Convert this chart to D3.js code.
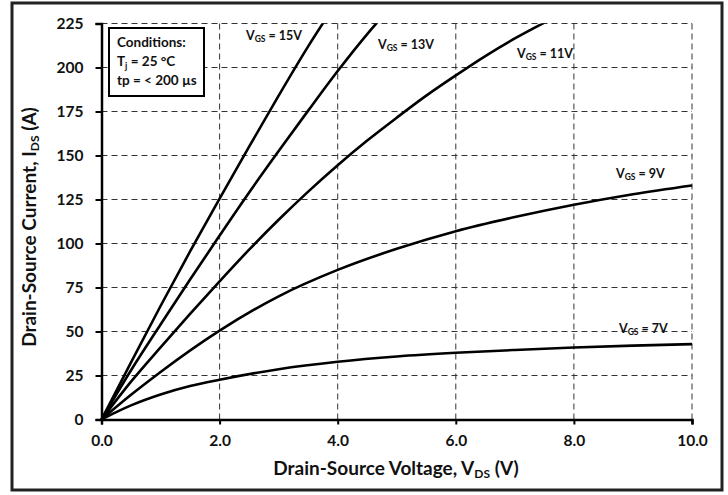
<!DOCTYPE html>
<html>
<head>
<meta charset="utf-8">
<script src="https://cdn.jsdelivr.net/npm/d3@7"></script>
<style>
  html, body { margin: 0; padding: 0; background: #fff; }
  svg { display: block; font-family: Lato, "Open Sans", sans-serif; }
</style>
</head>
<body>
<svg id="chart" width="728" height="495"></svg>
<script>
// Output characteristics, drain current vs drain-source voltage at several gate voltages
const vgsLabels = ["15V", "13V", "11V", "9V", "7V"];
const vds15 = [0, 0.5, 1, 1.5, 2, 2.5, 3, 3.5, 4];
const ids15 = [0, 32.5, 64.5, 95.5, 125.5, 155, 184, 212, 238];
const vds13 = [0, 0.5, 1, 1.5, 2, 2.5, 3, 3.5, 4, 4.5, 5];
const ids13 = [0, 28, 54, 79.5, 104.5, 129, 152.5, 175.5, 198, 219, 238];
const vds11 = [0, 0.5, 1, 1.5, 2, 2.5, 3, 3.5, 4, 4.5, 5, 5.5, 6, 6.5, 7, 7.5, 8];
const ids11 = [0, 21.5, 41, 60, 78.5, 96.5, 113.5, 129.5, 144.5, 158.5, 171.5, 184, 195.5, 206.5, 216.5, 225.5, 234];
const vds9 = [0, 0.5, 1, 2, 3, 4, 5, 6, 7, 8, 9, 10];
const ids9 = [0, 14, 27, 50.5, 70, 85, 97, 107, 115, 122, 128, 133];
const vds7 = [0, 0.25, 0.5, 1, 1.5, 2, 3, 4, 5, 6, 7, 8, 9, 10];
const ids7 = [0, 4.2, 8, 14.2, 19, 22.6, 28.6, 32.8, 35.8, 37.9, 39.5, 40.9, 42, 42.8];
const xTicks = [0, 2, 4, 6, 8, 10];
const yTicks = [0, 25, 50, 75, 100, 125, 150, 175, 200, 225];
const conditions = ["Conditions:", "T|j| = 25 °C", "tp = < 200 µs"];

const series = [
  { label: vgsLabels[0], vds: vds15, ids: ids15, lx: 246, ly: 40 },
  { label: vgsLabels[1], vds: vds13, ids: ids13, lx: 378, ly: 49 },
  { label: vgsLabels[2], vds: vds11, ids: ids11, lx: 517, ly: 58 },
  { label: vgsLabels[3], vds: vds9, ids: ids9, lx: 616, ly: 178 },
  { label: vgsLabels[4], vds: vds7, ids: ids7, lx: 619, ly: 333 }
];

const svg = d3.select("#chart");
const x = d3.scaleLinear().domain([0, 10]).range([101.5, 692]);
const y = d3.scaleLinear().domain([0, 225]).range([419.5, 23.5]);

// clip curves to the plotting area
svg.append("defs").append("clipPath").attr("id", "plot-clip")
  .append("rect")
  .attr("x", x(0) - 2).attr("y", y(225))
  .attr("width", x(10) - x(0) + 4).attr("height", y(0) - y(225) + 2);

// outer frame
svg.append("rect")
  .attr("x", 12).attr("y", 3).attr("width", 710).attr("height", 487)
  .attr("fill", "#fff").attr("stroke", "#222").attr("stroke-width", 3);

// dashed grid
const grid = svg.append("g").attr("stroke", "#333").attr("stroke-width", 1)
  .attr("stroke-dasharray", "6,4").attr("fill", "none");
grid.selectAll("line.h").data(yTicks.filter(d => d > 0)).join("line")
  .attr("x1", x(0)).attr("x2", x(10))
  .attr("y1", d => y(d)).attr("y2", d => y(d));
grid.selectAll("line.v").data(xTicks.filter(d => d > 0)).join("line")
  .attr("x1", d => x(d)).attr("x2", d => x(d))
  .attr("y1", y(0)).attr("y2", y(225));

// axes
const xAxis = svg.append("g").attr("transform", `translate(0,${y(0)})`)
  .call(d3.axisBottom(x).tickValues(xTicks).tickFormat(d3.format(".1f")).tickSize(5).tickPadding(10));
const yAxis = svg.append("g").attr("transform", `translate(${x(0)},0)`)
  .call(d3.axisLeft(y).tickValues(yTicks).tickSize(6).tickPadding(12));
[xAxis, yAxis].forEach(a => {
  a.select(".domain").attr("stroke", "#000").attr("stroke-width", 2.5);
  a.selectAll(".tick line").attr("stroke", "#000").attr("stroke-width", 2);
  a.selectAll(".tick text").attr("fill", "#111")
    .attr("font-family", "Lato, sans-serif").attr("font-size", 15.5).attr("font-weight", 700);
});

// curves
const line = d3.line().x(d => x(d[0])).y(d => y(d[1])).curve(d3.curveMonotoneX);
svg.append("g").attr("clip-path", "url(#plot-clip)")
  .selectAll("path").data(series).join("path")
  .attr("d", s => line(s.vds.map((v, i) => [v, s.ids[i]])))
  .attr("fill", "none").attr("stroke", "#000").attr("stroke-width", 2.6)
  .attr("stroke-linejoin", "round");

// curve labels
series.forEach(s => {
  const t = svg.append("text").attr("x", s.lx).attr("y", s.ly)
    .attr("font-size", 12.5).attr("font-weight", 700).attr("fill", "#111");
  t.append("tspan").text("V");
  t.append("tspan").attr("font-size", 8.5).attr("dy", 2).text("GS");
  t.append("tspan").attr("dy", -2).text(" = " + s.label);
});

// conditions box
svg.append("rect").attr("x", 109).attr("y", 28).attr("width", 95).attr("height", 68)
  .attr("fill", "#fff").attr("stroke", "#000").attr("stroke-width", 2);
conditions.forEach((c, i) => {
  const t = svg.append("text").attr("x", 117).attr("y", 47 + i * 19)
    .attr("font-size", 13.5).attr("font-weight", 700).attr("fill", "#111");
  const parts = c.split("|");
  if (parts.length === 3) {
    t.append("tspan").text(parts[0]);
    t.append("tspan").attr("font-size", 9).attr("dy", 3).text(parts[1]);
    t.append("tspan").attr("dy", -3).text(parts[2]);
  } else {
    t.text(c);
  }
});

// axis titles
const xt = svg.append("text").attr("x", 396).attr("y", 475).attr("text-anchor", "middle")
  .attr("font-size", 19).attr("font-weight", 700).attr("fill", "#111");
xt.append("tspan").text("Drain-Source Voltage, V");
xt.append("tspan").attr("font-size", 12).attr("dy", 3).text("DS");
xt.append("tspan").attr("dy", -3).text(" (V)");

const yt = svg.append("text").attr("transform", "translate(36,227) rotate(-90)")
  .attr("text-anchor", "middle")
  .attr("font-size", 19).attr("font-weight", 700).attr("fill", "#111");
yt.append("tspan").text("Drain-Source Current, I");
yt.append("tspan").attr("font-size", 12).attr("dy", 3).text("DS");
yt.append("tspan").attr("dy", -3).text(" (A)");
</script>
</body>
</html>
